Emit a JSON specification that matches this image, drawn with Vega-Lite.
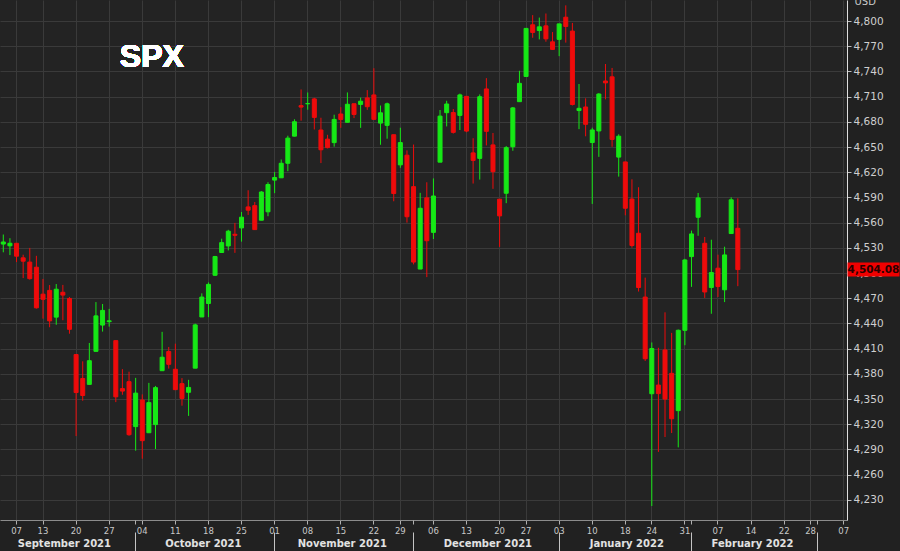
{
  "$schema": "https://vega.github.io/schema/vega-lite/v6.json",
  "width": 847,
  "height": 520,
  "autosize": {"type": "none"},
  "padding": {"left": 0, "top": 0, "right": 53, "bottom": 31},
  "background": "#212121",
  "config": {
    "view": {"stroke": null, "fill": "#232323"},
    "axis": {"labelFont": "DejaVu Sans", "titleFont": "DejaVu Sans", "gridColor": "#3a3a3a", "gridWidth": 1}
  },
  "datasets": {
    "spx": [
      {"d":"2021-09-02","o":4534.48,"h":4545.85,"l":4524.66,"c":4536.95},
      {"d":"2021-09-03","o":4532.42,"h":4541.45,"l":4521.37,"c":4535.43},
      {"d":"2021-09-07","o":4535.38,"h":4535.38,"l":4513.00,"c":4520.03},
      {"d":"2021-09-08","o":4518.09,"h":4521.79,"l":4493.95,"c":4514.07},
      {"d":"2021-09-09","o":4513.02,"h":4529.90,"l":4492.07,"c":4493.28},
      {"d":"2021-09-10","o":4506.92,"h":4520.47,"l":4457.66,"c":4458.58},
      {"d":"2021-09-13","o":4474.81,"h":4492.99,"l":4445.70,"c":4468.73},
      {"d":"2021-09-14","o":4479.33,"h":4485.68,"l":4435.46,"c":4443.05},
      {"d":"2021-09-15","o":4447.49,"h":4486.87,"l":4438.37,"c":4480.70},
      {"d":"2021-09-16","o":4477.09,"h":4485.87,"l":4443.80,"c":4473.75},
      {"d":"2021-09-17","o":4469.74,"h":4471.52,"l":4427.76,"c":4432.99},
      {"d":"2021-09-20","o":4402.95,"h":4402.95,"l":4305.91,"c":4357.73},
      {"d":"2021-09-21","o":4374.45,"h":4394.87,"l":4347.96,"c":4354.19},
      {"d":"2021-09-22","o":4367.43,"h":4416.75,"l":4367.43,"c":4395.64},
      {"d":"2021-09-23","o":4406.75,"h":4465.40,"l":4406.75,"c":4448.98},
      {"d":"2021-09-24","o":4438.04,"h":4463.12,"l":4430.27,"c":4455.48},
      {"d":"2021-09-27","o":4442.12,"h":4457.30,"l":4436.19,"c":4443.11},
      {"d":"2021-09-28","o":4419.54,"h":4419.54,"l":4346.33,"c":4352.63},
      {"d":"2021-09-29","o":4362.41,"h":4385.57,"l":4355.08,"c":4359.46},
      {"d":"2021-09-30","o":4370.67,"h":4382.55,"l":4306.24,"c":4307.54},
      {"d":"2021-10-01","o":4317.16,"h":4375.19,"l":4288.52,"c":4357.04},
      {"d":"2021-10-04","o":4348.84,"h":4355.51,"l":4278.94,"c":4300.46},
      {"d":"2021-10-05","o":4309.87,"h":4369.23,"l":4309.87,"c":4345.72},
      {"d":"2021-10-06","o":4319.57,"h":4365.57,"l":4290.49,"c":4363.55},
      {"d":"2021-10-07","o":4383.73,"h":4429.97,"l":4383.73,"c":4399.76},
      {"d":"2021-10-08","o":4406.51,"h":4412.02,"l":4386.22,"c":4391.34},
      {"d":"2021-10-11","o":4385.44,"h":4415.88,"l":4360.59,"c":4361.19},
      {"d":"2021-10-12","o":4368.31,"h":4374.89,"l":4342.09,"c":4350.65},
      {"d":"2021-10-13","o":4358.01,"h":4372.87,"l":4329.92,"c":4363.80},
      {"d":"2021-10-14","o":4386.75,"h":4439.73,"l":4386.75,"c":4438.26},
      {"d":"2021-10-15","o":4447.69,"h":4475.82,"l":4447.69,"c":4471.37},
      {"d":"2021-10-18","o":4463.72,"h":4488.75,"l":4447.47,"c":4486.46},
      {"d":"2021-10-19","o":4497.34,"h":4520.40,"l":4496.41,"c":4519.63},
      {"d":"2021-10-20","o":4524.42,"h":4540.87,"l":4524.40,"c":4536.19},
      {"d":"2021-10-21","o":4532.24,"h":4551.44,"l":4526.89,"c":4549.78},
      {"d":"2021-10-22","o":4546.12,"h":4559.67,"l":4524.00,"c":4544.90},
      {"d":"2021-10-25","o":4553.69,"h":4572.62,"l":4537.36,"c":4566.48},
      {"d":"2021-10-26","o":4578.69,"h":4598.53,"l":4569.17,"c":4574.79},
      {"d":"2021-10-27","o":4580.22,"h":4584.57,"l":4551.66,"c":4551.68},
      {"d":"2021-10-28","o":4562.84,"h":4597.55,"l":4562.84,"c":4596.42},
      {"d":"2021-10-29","o":4572.87,"h":4608.08,"l":4567.59,"c":4605.38},
      {"d":"2021-11-01","o":4610.62,"h":4620.34,"l":4595.06,"c":4613.67},
      {"d":"2021-11-02","o":4613.34,"h":4635.15,"l":4613.34,"c":4630.65},
      {"d":"2021-11-03","o":4630.65,"h":4663.46,"l":4621.19,"c":4660.57},
      {"d":"2021-11-04","o":4662.93,"h":4683.00,"l":4662.59,"c":4680.06},
      {"d":"2021-11-05","o":4699.26,"h":4718.50,"l":4681.32,"c":4697.53},
      {"d":"2021-11-08","o":4701.48,"h":4714.92,"l":4694.39,"c":4701.70},
      {"d":"2021-11-09","o":4707.25,"h":4708.53,"l":4670.87,"c":4685.25},
      {"d":"2021-11-10","o":4670.26,"h":4684.85,"l":4630.86,"c":4646.71},
      {"d":"2021-11-11","o":4659.39,"h":4664.55,"l":4648.31,"c":4649.27},
      {"d":"2021-11-12","o":4655.24,"h":4688.47,"l":4650.42,"c":4682.85},
      {"d":"2021-11-15","o":4689.30,"h":4697.42,"l":4672.86,"c":4682.80},
      {"d":"2021-11-16","o":4679.42,"h":4714.95,"l":4679.42,"c":4700.90},
      {"d":"2021-11-17","o":4701.50,"h":4701.50,"l":4684.41,"c":4688.67},
      {"d":"2021-11-18","o":4700.72,"h":4708.80,"l":4672.78,"c":4704.54},
      {"d":"2021-11-19","o":4708.44,"h":4717.75,"l":4694.22,"c":4697.96},
      {"d":"2021-11-22","o":4712.00,"h":4743.83,"l":4682.17,"c":4682.94},
      {"d":"2021-11-23","o":4678.48,"h":4699.39,"l":4652.66,"c":4690.70},
      {"d":"2021-11-24","o":4675.78,"h":4702.87,"l":4659.89,"c":4701.46},
      {"d":"2021-11-26","o":4664.63,"h":4664.63,"l":4585.43,"c":4594.62},
      {"d":"2021-11-29","o":4628.75,"h":4672.95,"l":4625.26,"c":4655.27},
      {"d":"2021-11-30","o":4640.25,"h":4646.02,"l":4560.00,"c":4567.00},
      {"d":"2021-12-01","o":4602.82,"h":4652.94,"l":4510.27,"c":4513.04},
      {"d":"2021-12-02","o":4504.73,"h":4595.46,"l":4504.73,"c":4577.10},
      {"d":"2021-12-03","o":4589.49,"h":4608.03,"l":4495.12,"c":4538.43},
      {"d":"2021-12-06","o":4548.37,"h":4612.60,"l":4540.51,"c":4591.67},
      {"d":"2021-12-07","o":4631.97,"h":4694.04,"l":4631.97,"c":4686.75},
      {"d":"2021-12-08","o":4690.86,"h":4705.06,"l":4674.52,"c":4701.21},
      {"d":"2021-12-09","o":4691.00,"h":4695.26,"l":4665.98,"c":4667.45},
      {"d":"2021-12-10","o":4687.64,"h":4713.57,"l":4670.24,"c":4712.02},
      {"d":"2021-12-13","o":4710.30,"h":4710.30,"l":4667.60,"c":4668.97},
      {"d":"2021-12-14","o":4642.99,"h":4660.47,"l":4606.52,"c":4634.09},
      {"d":"2021-12-15","o":4636.46,"h":4712.60,"l":4611.22,"c":4709.85},
      {"d":"2021-12-16","o":4719.13,"h":4731.99,"l":4651.89,"c":4668.67},
      {"d":"2021-12-17","o":4652.50,"h":4666.70,"l":4600.22,"c":4620.64},
      {"d":"2021-12-20","o":4587.90,"h":4587.90,"l":4531.10,"c":4568.02},
      {"d":"2021-12-21","o":4594.96,"h":4651.14,"l":4583.16,"c":4649.23},
      {"d":"2021-12-22","o":4650.36,"h":4697.67,"l":4645.53,"c":4696.56},
      {"d":"2021-12-23","o":4703.96,"h":4740.74,"l":4703.96,"c":4725.79},
      {"d":"2021-12-27","o":4733.99,"h":4791.49,"l":4733.99,"c":4791.19},
      {"d":"2021-12-28","o":4795.49,"h":4807.02,"l":4780.04,"c":4786.35},
      {"d":"2021-12-29","o":4788.64,"h":4804.06,"l":4778.08,"c":4793.06},
      {"d":"2021-12-30","o":4794.23,"h":4808.93,"l":4775.33,"c":4778.73},
      {"d":"2021-12-31","o":4775.21,"h":4786.83,"l":4765.75,"c":4766.18},
      {"d":"2022-01-03","o":4778.14,"h":4796.64,"l":4758.17,"c":4796.56},
      {"d":"2022-01-04","o":4804.51,"h":4818.62,"l":4774.27,"c":4793.54},
      {"d":"2022-01-05","o":4787.99,"h":4797.70,"l":4699.44,"c":4700.58},
      {"d":"2022-01-06","o":4693.39,"h":4725.01,"l":4671.26,"c":4696.05},
      {"d":"2022-01-07","o":4697.66,"h":4707.95,"l":4662.74,"c":4677.03},
      {"d":"2022-01-10","o":4655.34,"h":4673.02,"l":4582.24,"c":4670.29},
      {"d":"2022-01-11","o":4669.14,"h":4714.13,"l":4638.27,"c":4713.07},
      {"d":"2022-01-12","o":4728.59,"h":4748.83,"l":4706.71,"c":4726.35},
      {"d":"2022-01-13","o":4733.56,"h":4744.13,"l":4650.29,"c":4659.03},
      {"d":"2022-01-14","o":4637.99,"h":4665.13,"l":4614.75,"c":4662.85},
      {"d":"2022-01-18","o":4632.24,"h":4632.24,"l":4568.70,"c":4577.11},
      {"d":"2022-01-19","o":4588.03,"h":4611.55,"l":4530.20,"c":4532.76},
      {"d":"2022-01-20","o":4547.35,"h":4602.11,"l":4477.95,"c":4482.73},
      {"d":"2022-01-21","o":4471.38,"h":4494.52,"l":4395.34,"c":4397.94},
      {"d":"2022-01-24","o":4356.32,"h":4417.35,"l":4222.62,"c":4410.13},
      {"d":"2022-01-25","o":4366.64,"h":4411.01,"l":4287.11,"c":4356.45},
      {"d":"2022-01-26","o":4408.43,"h":4453.23,"l":4304.80,"c":4349.93},
      {"d":"2022-01-27","o":4380.58,"h":4428.74,"l":4309.50,"c":4326.51},
      {"d":"2022-01-28","o":4336.19,"h":4432.72,"l":4292.46,"c":4431.85},
      {"d":"2022-01-31","o":4431.79,"h":4516.89,"l":4414.02,"c":4515.55},
      {"d":"2022-02-01","o":4519.57,"h":4550.49,"l":4483.53,"c":4546.54},
      {"d":"2022-02-02","o":4566.39,"h":4595.31,"l":4544.32,"c":4589.38},
      {"d":"2022-02-03","o":4535.41,"h":4542.88,"l":4470.39,"c":4477.44},
      {"d":"2022-02-04","o":4482.79,"h":4539.66,"l":4451.50,"c":4500.53},
      {"d":"2022-02-07","o":4505.75,"h":4521.86,"l":4471.47,"c":4483.87},
      {"d":"2022-02-08","o":4480.02,"h":4531.32,"l":4465.40,"c":4521.54},
      {"d":"2022-02-09","o":4547.00,"h":4590.03,"l":4547.00,"c":4587.18},
      {"d":"2022-02-10","o":4553.24,"h":4588.92,"l":4484.31,"c":4504.08}
    ]
  },
  "data": {"name": "spx"},
  "resolve": {"axis": {"x": "independent", "y": "independent"}},
  "layer": [
    {
      "mark": {"type": "rule", "strokeWidth": 1},
      "encoding": {
        "x": {
          "field": "d", "type": "ordinal",
          "scale": {
            "type": "band", "paddingInner": 0, "paddingOuter": 0,
            "domain": ["2021-09-02","2021-09-03","2021-09-07","2021-09-08","2021-09-09","2021-09-10","2021-09-13","2021-09-14","2021-09-15","2021-09-16","2021-09-17","2021-09-20","2021-09-21","2021-09-22","2021-09-23","2021-09-24","2021-09-27","2021-09-28","2021-09-29","2021-09-30",
              "2021-10-01","2021-10-04","2021-10-05","2021-10-06","2021-10-07","2021-10-08","2021-10-11","2021-10-12","2021-10-13","2021-10-14","2021-10-15","2021-10-18","2021-10-19","2021-10-20","2021-10-21","2021-10-22","2021-10-25","2021-10-26","2021-10-27","2021-10-28","2021-10-29",
              "2021-11-01","2021-11-02","2021-11-03","2021-11-04","2021-11-05","2021-11-08","2021-11-09","2021-11-10","2021-11-11","2021-11-12","2021-11-15","2021-11-16","2021-11-17","2021-11-18","2021-11-19","2021-11-22","2021-11-23","2021-11-24","2021-11-26","2021-11-29","2021-11-30",
              "2021-12-01","2021-12-02","2021-12-03","2021-12-06","2021-12-07","2021-12-08","2021-12-09","2021-12-10","2021-12-13","2021-12-14","2021-12-15","2021-12-16","2021-12-17","2021-12-20","2021-12-21","2021-12-22","2021-12-23","2021-12-27","2021-12-28","2021-12-29","2021-12-30","2021-12-31",
              "2022-01-03","2022-01-04","2022-01-05","2022-01-06","2022-01-07","2022-01-10","2022-01-11","2022-01-12","2022-01-13","2022-01-14","2022-01-18","2022-01-19","2022-01-20","2022-01-21","2022-01-24","2022-01-25","2022-01-26","2022-01-27","2022-01-28","2022-01-31",
              "2022-02-01","2022-02-02","2022-02-03","2022-02-04","2022-02-07","2022-02-08","2022-02-09","2022-02-10","2022-02-11","2022-02-14","2022-02-15","2022-02-16","2022-02-17","2022-02-18","2022-02-22","2022-02-23","2022-02-24","2022-02-25","2022-02-28",
              "2022-03-01","2022-03-02","2022-03-03","2022-03-04","2022-03-07"]
          },
          "axis": {
            "orient": "bottom", "title": null,
            "values": ["2021-09-07","2021-09-13","2021-09-20","2021-09-27","2021-10-04","2021-10-11","2021-10-18","2021-10-25","2021-11-01","2021-11-08","2021-11-15","2021-11-22","2021-11-29","2021-12-06","2021-12-13","2021-12-20","2021-12-27","2022-01-03","2022-01-10","2022-01-18","2022-01-24","2022-01-31","2022-02-07","2022-02-14","2022-02-22","2022-02-28","2022-03-07"],
            "labelExpr": "substring(datum.value, 8, 10)",
            "labelAngle": 0, "labelAlign": "center", "labelBaseline": "top",
            "labelFontSize": 8.5, "labelColor": "#c8c8c8", "labelPadding": 2,
            "tickSize": 4, "tickColor": "#b0b0b0",
            "domainColor": "#8c8c8c", "grid": true, "labelOverlap": false
          }
        },
        "y": {
          "field": "l", "type": "quantitative",
          "scale": {"domain": [4206, 4825], "nice": false, "zero": false},
          "axis": {
            "orient": "right",
            "values": [4230,4260,4290,4320,4350,4380,4410,4440,4470,4500,4530,4560,4590,4620,4650,4680,4710,4740,4770,4800],
            "format": ",d", "labelFontSize": 10.5, "labelColor": "#cfcfcf", "labelPadding": 2,
            "tickSize": 4, "tickColor": "#bdbdbd", "domainColor": "#dedede", "grid": true,
            "title": "USD", "titleAngle": 0, "titleX": 7, "titleY": 4, "titleAlign": "left", "titleBaseline": "alphabetic",
            "titleFontSize": 10, "titleFontWeight": "normal", "titleColor": "#c8c8c8", "labelOverlap": false
          }
        },
        "y2": {"field": "h"},
        "color": {"condition": {"test": "datum.c >= datum.o", "value": "#16e816"}, "value": "#ee0b0b"}
      }
    },
    {
      "mark": {"type": "bar", "width": 4, "strokeWidth": 1},
      "encoding": {
        "x": {
          "field": "d", "type": "ordinal",
          "axis": {
            "orient": "bottom", "title": null,
            "values": ["2021-09-16","2021-10-15","2021-11-15","2021-12-16","2022-01-18","2022-02-14"],
            "labelExpr": "utcFormat(toDate(datum.value), '%B %Y')",
            "labelAngle": 0, "labelAlign": "center", "labelBaseline": "top", "labelOffset": 1.5,
            "labelFontSize": 10, "labelFontWeight": "bold", "labelColor": "#e2e2e2", "labelPadding": 18,
            "ticks": false, "tickSize": 0, "domain": false, "grid": false, "labelOverlap": false
          }
        },
        "y": {"field": "o", "type": "quantitative", "axis": null},
        "y2": {"field": "c"},
        "color": {"condition": {"test": "datum.c >= datum.o", "value": "#16e816"}, "value": "#ee0b0b"},
        "stroke": {"condition": {"test": "datum.c >= datum.o", "value": "#16e816"}, "value": "#ee0b0b"}
      }
    },
    {
      "mark": {"type": "rule", "opacity": 0},
      "encoding": {
        "x": {
          "field": "d", "type": "ordinal",
          "axis": {
            "orient": "bottom", "title": null, "offset": 12,
            "values": ["2021-10-01","2021-11-01","2021-12-01","2022-01-03","2022-02-01","2022-03-01"],
            "labels": false, "domain": false, "grid": false, "tickSize": 19, "tickColor": "#c4c4c4"
          }
        }
      }
    },
    {
      "mark": {"type": "rule", "opacity": 0},
      "encoding": {
        "x": {
          "field": "d", "type": "ordinal",
          "axis": {
            "orient": "bottom", "title": null,
            "values": ["2021-10-01","2021-12-01","2022-02-01","2022-03-01"],
            "labels": false, "domain": false, "grid": false, "tickSize": 4, "tickColor": "#b0b0b0"
          }
        }
      }
    },
    {
      "mark": {"type": "text", "font": "Liberation Sans", "fontSize": 32, "fontWeight": "bold", "color": "#ffffff", "align": "center", "baseline": "alphabetic", "dx": 3},
      "encoding": {
        "x": {"datum": "2021-10-05", "type": "ordinal", "axis": null},
        "y": {"datum": 4745.6, "type": "quantitative", "axis": null},
        "text": {"value": "SPX"}
      }
    },
    {
      "transform": [{"filter": "datum.d == '2022-02-10'"}],
      "mark": {"type": "tick", "orient": "horizontal", "size": 52, "thickness": 14, "color": "#f00000", "opacity": 1, "xOffset": 26.5, "clip": false},
      "encoding": {
        "x": {"value": "width"},
        "y": {"field": "c", "type": "quantitative", "axis": null}
      }
    },
    {
      "transform": [{"filter": "datum.d == '2022-02-10'"}],
      "mark": {"type": "text", "font": "DejaVu Sans", "fontSize": 10.5, "fontWeight": "bold", "color": "#2a0000", "align": "center", "baseline": "middle", "dx": 26.5, "clip": false},
      "encoding": {
        "x": {"value": "width"},
        "y": {"field": "c", "type": "quantitative", "axis": null},
        "text": {"field": "c", "type": "quantitative", "format": ",.2f"}
      }
    }
  ]
}
